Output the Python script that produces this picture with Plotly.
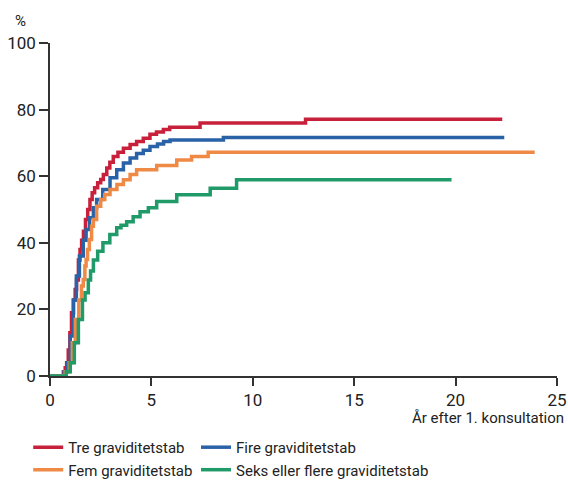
import plotly.graph_objects as go

# Years after 1st consultation (x) and cumulative % (y) for each group
tre_x = [0, 0.66, 0.75, 0.82, 0.9, 0.98, 1.06, 1.16, 1.24, 1.31, 1.4, 1.48, 1.56, 1.65, 1.75, 1.86, 1.97, 2.08, 2.2, 2.35, 2.5, 2.63, 2.8, 2.95, 3.12, 3.35, 3.62, 3.95, 4.27, 4.6, 4.93, 5.25, 5.59, 5.9, 7.4, 12.6, 22.3]
tre_y = [0, 1.3, 2.5, 4, 7.8, 13, 19, 22.8, 26, 28.8, 34.8, 38, 40.8, 43.5, 47, 50, 53, 55, 56.5, 58, 59, 60.5, 62.5, 64.2, 65.9, 67.2, 68.4, 69.5, 70.4, 71.4, 72.6, 73.3, 74.0, 74.7, 76.0, 77.1, 77.1]

fire_x = [0, 0.7, 0.85, 1.0, 1.15, 1.3, 1.45, 1.64, 1.78, 1.95, 2.14, 2.3, 2.6, 2.96, 3.29, 3.62, 3.95, 4.27, 4.6, 4.93, 5.3, 5.6, 5.92, 8.55, 22.4]
fire_y = [0, 1.3, 4, 12, 22.8, 30, 36, 40.8, 44, 47.5, 50.5, 53, 56, 59.5, 61.9, 64, 65.5, 66.8, 67.8, 68.9, 69.7, 70.4, 70.9, 71.6, 71.6]

fem_x = [0, 0.75, 0.95, 1.1, 1.25, 1.42, 1.55, 1.64, 1.72, 1.78, 1.85, 1.94, 2.05, 2.14, 2.3, 2.5, 2.7, 2.96, 3.3, 3.62, 3.95, 4.27, 5.26, 6.25, 6.98, 7.8, 23.9]
fem_y = [0, 1.3, 4, 10, 17, 22.8, 27, 29, 33, 35, 38, 41, 45, 47, 51, 53, 54.5, 56, 57.5, 58.9, 60.5, 61.9, 63.2, 64.9, 65.9, 67.2, 67.2]

seks_x = [0, 0.8, 1.0, 1.2, 1.4, 1.6, 1.73, 1.89, 2.0, 2.14, 2.35, 2.61, 2.95, 3.29, 3.5, 3.78, 4.1, 4.44, 4.85, 5.26, 6.25, 7.9, 9.2, 19.8]
seks_y = [0, 1.3, 4, 10, 17, 22.8, 25, 28.8, 31.5, 34.8, 37.5, 40, 42.5, 44.5, 45.3, 46.3, 47.8, 49.3, 50.5, 52.4, 54.4, 56.4, 58.9, 58.9]

names = ["Tre graviditetstab", "Fire graviditetstab", "Fem graviditetstab", "Seks eller flere graviditetstab"]
colors = ["#c8203a", "#2a62a8", "#ee8a45", "#1f9a68"]
legend_ids = ["legend", "legend2", "legend", "legend2"]
series = [(tre_x, tre_y), (fire_x, fire_y), (fem_x, fem_y), (seks_x, seks_y)]

x_ticks = [0, 5, 10, 15, 20, 25]
y_ticks = [0, 20, 40, 60, 80, 100]

FONT = "Roboto, sans-serif"

fig = go.Figure()
for (xs, ys), name, col, lg in zip(series, names, colors, legend_ids):
    fig.add_trace(go.Scatter(x=xs, y=ys, mode="lines", name=name, legend=lg,
                             line=dict(color=col, width=3.5, shape="hv")))

legend_common = dict(orientation="v", xanchor="left", yanchor="top", y=-0.165,
                     itemwidth=30, traceorder="normal",
                     font=dict(size=15), tracegroupgap=0, bgcolor="rgba(0,0,0,0)")

fig.update_layout(
    width=568, height=482,
    margin=dict(l=50, r=11, t=43, b=106, autoexpand=False),
    paper_bgcolor="white", plot_bgcolor="white",
    font=dict(family=FONT, size=16, color="#222"),
    xaxis=dict(range=[0, 25], tickvals=x_ticks, showgrid=False, zeroline=False,
               showline=True, linecolor="#333", linewidth=1.5,
               ticks="outside", ticklen=8, tickcolor="#333", tickwidth=1.5,
               tickfont=dict(size=17)),
    yaxis=dict(range=[0, 100], tickvals=y_ticks, showgrid=False, zeroline=False,
               showline=True, linecolor="#333", linewidth=1.5,
               ticks="outside", ticklen=9, tickcolor="#333", tickwidth=1.5,
               tickfont=dict(size=17)),
    legend=dict(x=-0.043, **legend_common),
    legend2=dict(x=0.288, **legend_common),
    showlegend=True,
)

fig.add_annotation(text="%", xref="paper", yref="paper", x=0, y=1, xshift=-37, yshift=22,
                   showarrow=False, xanchor="left", yanchor="middle", font=dict(size=15))
fig.add_annotation(text="År efter 1. konsultation", xref="paper", yref="paper", x=1, y=0,
                   xshift=9, yshift=-42, showarrow=False, xanchor="right", yanchor="middle",
                   font=dict(size=15))

fig.write_html("out.html", config={"displayModeBar": False},
               post_script="document.body.style.margin='0';")
